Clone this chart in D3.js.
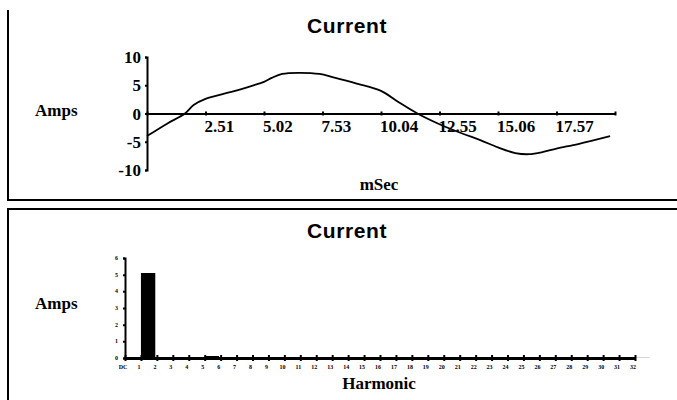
<!DOCTYPE html>
<html>
<head>
<meta charset="utf-8">
<script src="https://cdn.jsdelivr.net/npm/d3@7"></script>
<style>
  body { margin: 0; background: #fff; overflow: hidden; }
  text { fill: #000; }
  .serif { font-family: "Liberation Serif", "Times New Roman", serif; font-weight: bold; }
  .title { font-family: "Liberation Sans", Arial, sans-serif; font-weight: bold; font-size: 21px; letter-spacing: 0.6px; }
</style>
</head>
<body>
<script>
// waveform samples (mSec, Amps)
var waveTime = [0, 0.86, 1.63, 2.0, 2.51, 3.7, 4.5, 5.02, 5.35, 5.8, 6.5, 7.4, 8.0, 9.0, 10.04, 10.8, 11.6, 12.55, 13.5, 14.3, 15.06, 15.8, 16.4, 17.0, 17.57, 18.5, 19.87];
var waveAmps = [-4.0, -1.8, 0, 1.5, 2.6, 3.9, 4.9, 5.6, 6.3, 7.0, 7.2, 7.0, 6.4, 5.3, 4.0, 2.0, 0, -1.9, -3.5, -4.7, -6.0, -7.0, -7.2, -6.8, -6.2, -5.4, -4.0];
var timeTicks = [0, 2.51, 5.02, 7.53, 10.04, 12.55, 15.06, 17.57, 20.08];
var ampTicks = [10, 5, 0, -5, -10];

// harmonic spectrum (Amps)
var harmonics = d3.range(0, 33);
var harmonicLabels = ["DC"].concat(d3.range(1, 33).map(String));
var harmonicAmps = [0, 5.1, 0.02, 0.04, 0.02, 0.12, 0.03, 0.05, 0.02, 0.03, 0.02, 0.03, 0.02, 0.02, 0.01, 0.02,
  0.01, 0.02, 0.01, 0.01, 0.01, 0.01, 0.01, 0.01, 0.01, 0.01, 0.01, 0.01, 0.01, 0.01, 0.01, 0.01, 0.01];
var spectrumTicks = [0, 1, 2, 3, 4, 5, 6];

var W = 677, H = 400;

var svg = d3.select("body").append("svg")
    .attr("width", W)
    .attr("height", H);

//panel frames
var frame = svg.append("g")
    .attr("stroke", "#000")
    .attr("stroke-width", 2)
    .attr("fill", "none");
frame.append("path").attr("d", "M8,10V200H677");
frame.append("path").attr("d", "M677,209H8V400");

// ---------- upper: current waveform ----------
var x1 = d3.scaleLinear().domain([0, 20.08]).range([147, 615]);
var y1 = d3.scaleLinear().domain([-10, 10]).range([170, 57]);

var upper = svg.append("g");

upper.append("text")
    .attr("class", "title")
    .attr("x", 347)
    .attr("y", 33)
    .attr("text-anchor", "middle")
    .text("Current");

// y axis
upper.append("g")
    .attr("transform", "translate(" + x1(0) + ",0)")
    .call(d3.axisLeft(y1).tickValues(ampTicks).tickSize(2).tickFormat(""))
    .call(function(g) { g.selectAll("path, line").attr("stroke", "#000").attr("stroke-width", 2); });

upper.selectAll(".ylab")
    .data(ampTicks)
  .enter().append("text")
    .attr("class", "serif ylab")
    .attr("x", x1(0) - 6)
    .attr("y", function(d) { return y1(d) + 6; })
    .attr("text-anchor", "end")
    .attr("font-size", 17)
    .text(function(d) { return d; });

// x axis through zero
upper.append("g")
    .attr("transform", "translate(0," + y1(0) + ")")
    .call(d3.axisBottom(x1).tickValues(timeTicks).tickSizeInner(2).tickSizeOuter(0).tickFormat(""))
    .call(function(g) {
      g.select(".domain").attr("stroke", "#000").attr("stroke-width", 2);
      g.selectAll(".tick line").attr("stroke", "#000").attr("stroke-width", 2).attr("y1", -2).attr("y2", 2);
    });

upper.selectAll(".xlab")
    .data(timeTicks.slice(1, -1))
  .enter().append("text")
    .attr("class", "serif xlab")
    .attr("x", function(d) { return x1(d) - 1; })
    .attr("y", 132)
    .attr("font-size", 17)
    .text(function(d) { return d.toFixed(2); });

upper.append("text")
    .attr("class", "serif")
    .attr("x", 35)
    .attr("y", 116)
    .attr("font-size", 17)
    .text("Amps");

upper.append("text")
    .attr("class", "serif")
    .attr("x", 379)
    .attr("y", 190)
    .attr("text-anchor", "middle")
    .attr("font-size", 17)
    .text("mSec");

var line = d3.line()
    .x(function(d, i) { return x1(waveTime[i]); })
    .y(function(d) { return y1(d); })
    .curve(d3.curveCatmullRom);

upper.append("path")
    .attr("d", line(waveAmps))
    .attr("fill", "none")
    .attr("stroke", "#000")
    .attr("stroke-width", 1.8);

// ---------- lower: harmonic spectrum ----------
var x2 = d3.scaleLinear().domain([0, 32]).range([125, 635]);
var y2 = d3.scaleLinear().domain([0, 6]).range([358, 258]);

var lower = svg.append("g");

lower.append("text")
    .attr("class", "title")
    .attr("x", 347)
    .attr("y", 238)
    .attr("text-anchor", "middle")
    .text("Current");

lower.selectAll(".bar")
    .data(harmonicAmps)
  .enter().append("rect")
    .attr("class", "bar")
    .attr("x", function(d, i) { return x2(harmonics[i]); })
    .attr("width", x2(0.9) - x2(0))
    .attr("y", function(d) { return y2(d); })
    .attr("height", function(d) { return y2(0) - y2(d); })
    .attr("fill", "#000");

lower.append("g")
    .attr("transform", "translate(" + x2(0) + ",0)")
    .call(d3.axisLeft(y2).tickValues(spectrumTicks).tickSize(2).tickFormat(""))
    .call(function(g) { g.selectAll("path, line").attr("stroke", "#000").attr("stroke-width", 2); });

lower.selectAll(".ylab")
    .data(spectrumTicks)
  .enter().append("text")
    .attr("class", "serif ylab")
    .attr("x", x2(0) - 7)
    .attr("y", function(d) { return y2(d) + 2; })
    .attr("text-anchor", "end")
    .attr("font-size", 6)
    .text(function(d) { return d; });

lower.append("g")
    .attr("transform", "translate(0," + y2(0) + ")")
    .call(d3.axisBottom(x2).tickValues(harmonics).tickSizeInner(2).tickSizeOuter(0).tickFormat(""))
    .call(function(g) {
      g.select(".domain").attr("stroke", "#000").attr("stroke-width", 3);
      g.selectAll(".tick line").attr("stroke", "#000").attr("stroke-width", 2).attr("y1", -3).attr("y2", 3);
    });

lower.selectAll(".xlab")
    .data(harmonics)
  .enter().append("text")
    .attr("class", "serif xlab")
    .attr("x", function(d) { return x2(d) - 2; })
    .attr("y", 369)
    .attr("text-anchor", "middle")
    .attr("font-size", 6)
    .text(function(d, i) { return harmonicLabels[i]; });

lower.append("text")
    .attr("class", "serif")
    .attr("x", 35)
    .attr("y", 309)
    .attr("font-size", 17)
    .text("Amps");

lower.append("text")
    .attr("class", "serif")
    .attr("x", 379)
    .attr("y", 389)
    .attr("text-anchor", "middle")
    .attr("font-size", 17)
    .text("Harmonic");
</script>
</body>
</html>
